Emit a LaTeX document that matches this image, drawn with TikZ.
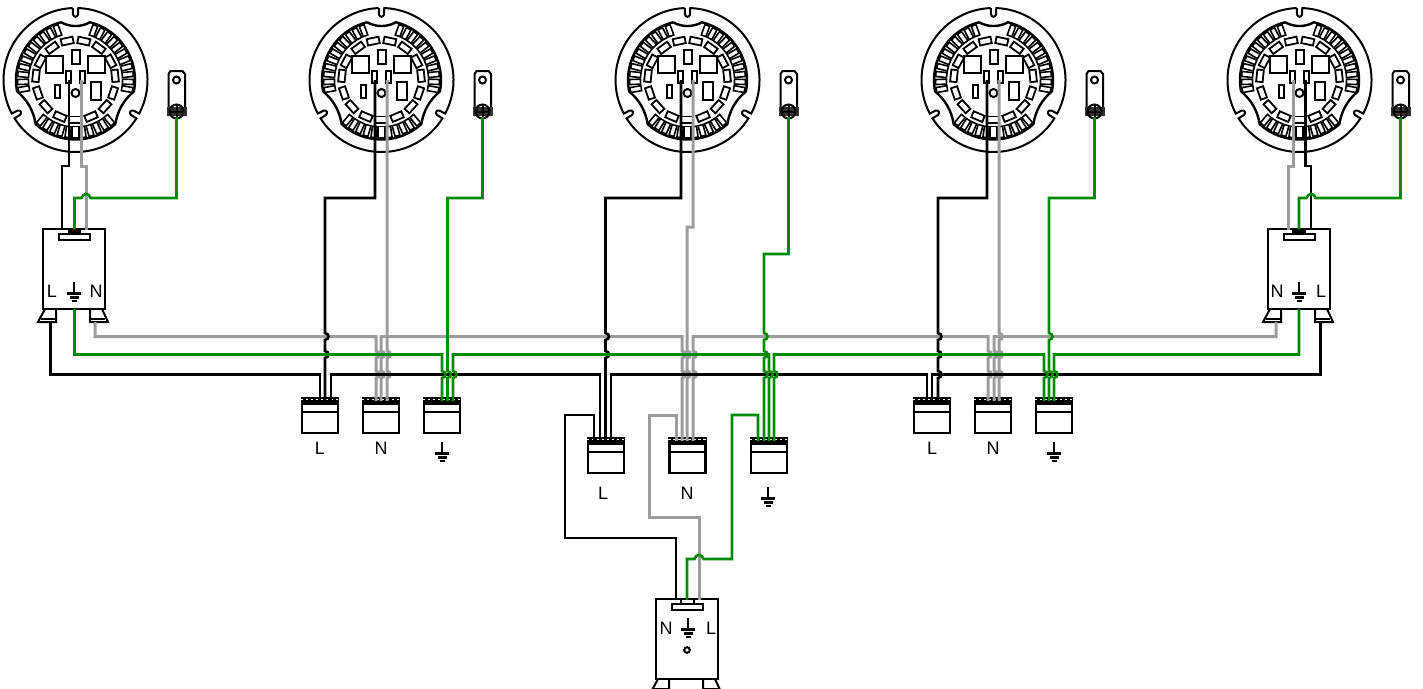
\documentclass[tikz,border=0pt]{standalone}
\usepackage{fontspec}
\setmainfont{Liberation Sans}
\definecolor{wgray}{HTML}{9C9C9C}
\definecolor{wgreen}{HTML}{008A00}
\tikzset{
  wire/.style={line width=2.6pt,line join=miter},
  wb/.style={wire,draw=black},
  wg/.style={wire,line width=3pt,draw=wgray},
  wn/.style={wire,draw=wgreen},
  lampline/.style={draw=black,line width=2pt},
  toothline/.style={draw=black,line width=1.6pt},
  connbox/.style={draw=black,line width=2.6pt,rectangle,inner sep=0pt,minimum width=36pt,minimum height=35pt},
  drvbox/.style={draw=black,line width=2pt,rectangle,inner sep=0pt,minimum width=62pt,minimum height=80pt},
  lbl/.style={inner sep=0pt,font=\fontsize{18}{19}\selectfont,text=black},
}
% vertical hops (bump to the right), horizontal hop (bump upward, travelling leftward)
\def\vh#1#2{-- (#1,{#2-3.4}) .. controls ({#1+4.6},{#2-3.4}) and ({#1+4.6},{#2+3.4}) .. (#1,{#2+3.4})}
\def\vu#1#2{-- (#1,{#2+3.4}) .. controls ({#1+4.6},{#2+3.4}) and ({#1+4.6},{#2-3.4}) .. (#1,{#2-3.4})}
\def\hh#1#2{-- ({#1+4.5},#2) .. controls ({#1+3},{#2-5.5}) and ({#1-3},{#2-5.5}) .. ({#1-4.5},#2)}
\def\notch#1{-- ({#1-2.2}:65.5) .. controls ({#1-1.5}:62.5) and ({#1+1.5}:62.5) .. ({#1+2.2}:65.5) -- ({#1+2.2}:72)}
\def\lamp#1#2{%
  \coordinate (#2) at (#1,80);
  \begin{scope}[shift={(#1,80)},y=1pt]
    \draw[lampline] (92.2:72) arc[start angle=92.2,end angle=207.8,radius=72] \notch{210}
       arc[start angle=212.2,end angle=327.8,radius=72] \notch{330}
       arc[start angle=332.2,end angle=447.8,radius=72] \notch{90};
    \draw[lampline,line width=2.4pt] (104:59.5) arc[start angle=104,end angle=191,radius=59.5]
       .. controls (203:52) and (216:52) .. (228:59.5)
       arc[start angle=228,end angle=312,radius=59.5]
       .. controls (324:52) and (337:52) .. (349:59.5)
       arc[start angle=349,end angle=436,radius=59.5]
       .. controls (84:53) and (96:53) .. (104:59.5);
    \foreach \a in {110,118,...,190,230,238,...,310,-10,-2,...,70}
      \draw[toothline,rotate=\a] (47,-2.5) rectangle (58,2.5);
    \foreach \a in {270}
      \draw[toothline,fill=white,rotate=\a] (46.5,-3.6) rectangle (58,3.6);
    \foreach \a in {6,28,54,78,102,126,152,174,199,222,247,270,293,318,341}
      \draw[toothline,line width=1.8pt,rotate=\a] (36.5,-6) rectangle (43,6);
    \draw[lampline] (-29.5,7.5) rectangle (-12.5,24);
    \draw[lampline] (12,7.5) rectangle (29,24);
    \draw[lampline] (-4,16) rectangle (4,30);
    \draw[lampline,line width=1.4pt] (-9.5,-3) rectangle (-4.5,9);
    \draw[lampline,line width=1.4pt] (4.5,-3) rectangle (9.5,9);
    \draw[lampline] (-21,-18) rectangle (-16,-5);
    \draw[lampline] (15,-20) rectangle (25,-2);
    \draw[lampline] (0,-13) circle[radius=4];
    % bracket
    \draw[lampline] (93,-36) -- (93,6) -- (95,9) -- (107,9) -- (109.5,6) -- (109.5,-36);
    \draw[lampline] (101,0) circle[radius=3.5];
    \fill[black!80] (91,-36) rectangle (111.5,-27);
    \draw[lampline] (101,-31.5) circle[radius=7];
    \draw[lampline] (94,-31.5) -- (108,-31.5) (101,-24.5) -- (101,-38.5);
  \end{scope}}
\def\conn#1#2#3{%
  \node[connbox] (#1) at (#2,{#3+17.5}) {};
  \fill[black] (#1.north west) rectangle ([yshift=-8pt]#1.north east);
  \draw[white,line width=.8pt,dash pattern=on 2.5pt off 2.5pt] ([yshift=-3pt]#1.north west) -- ([yshift=-3pt]#1.north east);
  \draw[black,line width=2.2pt] ([yshift=-15pt]#1.north west) -- ([yshift=-15pt]#1.north east);}
\def\gnd#1#2{%
  \draw[black,line width=2.2pt] (#1,#2) -- (#1,{#2+11.5});
  \draw[black,line width=2.2pt] ({#1-7},{#2+11.5}) -- ({#1+7},{#2+11.5});
  \draw[black,line width=2.2pt] ({#1-4.5},{#2+15.5}) -- ({#1+4.5},{#2+15.5});
  \draw[black,line width=2.2pt] ({#1-2.5},{#2+19}) -- ({#1+2.5},{#2+19});}
\def\feet#1#2{%
  \draw[black,line width=2pt] ({#1-29},#2) -- ({#1-36},{#2+13}) -- ({#1-18},{#2+13}) -- ({#1-18},#2);
  \draw[black,line width=2pt] ({#1-33},{#2+10}) -- ({#1-18},{#2+10});
  \draw[black,line width=2pt] ({#1+16},#2) -- ({#1+16},{#2+13}) -- ({#1+34},{#2+13}) -- ({#1+28},#2);
  \draw[black,line width=2pt] ({#1+16},{#2+10}) -- ({#1+31},{#2+10});}
\def\strip#1#2#3{%
  \draw[black,line width=2pt] ({#1-15.5},{#2+5}) rectangle ({#1+15.5},{#2+10.5});}
\begin{document}
\begin{tikzpicture}[x=1pt,y=-1pt]
\useasboundingbox (0,0) rectangle (1423,688);
\lamp{75.5}{lampA}
\lamp{381.5}{lampB}
\lamp{687.5}{lampC}
\lamp{993.5}{lampD}
\lamp{1299.5}{lampE}
% drivers
\node[drvbox] (drvA) at (74,269) {};
\node[drvbox] (drvE) at (1299,269) {};
\node[drvbox] (drvC) at (687,639) {};
\strip{74}{229}{}
\strip{1299}{229}{}
\strip{687}{599}{}
\fill[black] (68,229) rectangle (81,234);
\fill[black] (1292,229) rectangle (1306,234);
\draw[black,line width=1.6pt] (681,599) rectangle (694,604);
\feet{74}{309}
\feet{1299}{309}
\feet{687}{679}
\gnd{74}{282}
\gnd{1299}{282}
\gnd{688}{618}
\draw[lampline] (687,650) circle[radius=2.8];
\node[lbl] (tAL) at (52,291) {L};
\node[lbl] (tAN) at (96,291) {N};
\node[lbl] (tEN) at (1277,291) {N};
\node[lbl] (tEL) at (1321,291) {L};
\node[lbl] (tCN) at (666,628) {N};
\node[lbl] (tCL) at (711,628) {L};
% connectors
\conn{cL2}{320}{398}
\conn{cN2}{381}{398}
\conn{cG2}{442}{398}
\conn{cL3}{606}{438}
\conn{cN3}{687.5}{438}
\conn{cG3}{769}{438}
\conn{cL4}{932}{398}
\conn{cN4}{993}{398}
\conn{cG4}{1054}{398}
\node[lbl] (tL2) at (320,448) {L};
\node[lbl] (tN2) at (381,448) {N};
\gnd{442}{442}
\node[lbl] (tL3) at (603,493) {L};
\node[lbl] (tN3) at (687,493) {N};
\gnd{768}{487}
\node[lbl] (tL4) at (932,448) {L};
\node[lbl] (tN4) at (993,448) {N};
\gnd{1054}{442}
% terminals
\coordinate (pAL) at (69,80);   \coordinate (pAR) at (81,80);
\coordinate (pBL) at (375,80);  \coordinate (pBR) at (387,80);
\coordinate (pCL) at (681,80);  \coordinate (pCR) at (693,80);
\coordinate (pDL) at (987,80);  \coordinate (pDR) at (999,80);
\coordinate (pEL) at (1293,80); \coordinate (pER) at (1305.5,80);
\coordinate (bA) at (176.5,117); \coordinate (bB) at (482.5,117);
\coordinate (bC) at (788.5,117); \coordinate (bD) at (1094.5,117);
\coordinate (bE) at (1400.5,117);
\coordinate (tA1) at (62,229.5); \coordinate (tA2) at (74.5,229.5); \coordinate (tA3) at (86,229.5);
\coordinate (tE1) at (1288,229.5); \coordinate (tE2) at (1299,229.5); \coordinate (tE3) at (1311,229.5);
\coordinate (tC1) at (676,599.5); \coordinate (tC2) at (687,599.5); \coordinate (tC3) at (699,599.5);
\coordinate (fAL) at (50.5,322); \coordinate (fAN) at (95,322); \coordinate (fAG) at (74.5,309);
\coordinate (fEN) at (1276,322); \coordinate (fEL) at (1320.5,322); \coordinate (fEG) at (1299,309);
% --- gray wires
\draw[wg] (pAR) -- (81,166) -- (86,166) -- (tA3);
\draw[wg] (fAN) -- (95,336.5) -- (376,336.5) \vh{376}{354.5} \vh{376}{374.5} -- (376,401);
\draw[wg] (pBR) \vh{387}{354.5} \vh{387}{374.5} -- (387,401);
\draw[wg] (381,401) \vu{381}{374.5} \vu{381}{354.5} -- (381,336.5) -- (682,336.5) \vh{682}{354.5} \vh{682}{374.5} -- (682,441);
\draw[wg] (pCR) -- (693,227) -- (687,227) \vh{687}{354.5} \vh{687}{374.5} -- (687,441);
\draw[wg] (693,441) \vu{693}{374.5} \vu{693}{354.5} -- (693,336.5) -- (988,336.5) \vh{988}{354.5} \vh{988}{374.5} -- (988,401);
\draw[wg] (pDR) \vh{999}{336.5} \vh{999}{354.5} \vh{999}{374.5} -- (999,401);
\draw[wg] (994,401) \vu{994}{374.5} \vu{994}{354.5} -- (994,336.5) -- (1276,336.5) -- (fEN);
\draw[wg] (pEL) -- (1293,166) -- (1288,166) -- (tE1);
\draw[wg] (676,441) -- (676,415) -- (649,415) -- (649,517) -- (699,517) -- (tC3);
% --- black wires
\draw[wb] (pAL) -- (69,166) -- (62,166) -- (tA1);
\draw[wb] (fAL) -- (50.5,374.5) -- (320,374.5) -- (320,401);
\draw[wb] (pBL) -- (375,198) -- (325,198) \vh{325}{336.5} \vh{325}{354.5} -- (325,401);
\draw[wb] (331,401) -- (331,374.5) -- (600,374.5) -- (600,441);
\draw[wb] (pCL) -- (681,198) -- (605.5,198) \vh{605.5}{336.5} \vh{605.5}{354.5} -- (605.5,441);
\draw[wb] (611,441) -- (611,374.5) -- (927,374.5) -- (927,401);
\draw[wb] (pDL) -- (987,198) -- (938,198) \vh{938}{336.5} \vh{938}{354.5} \vh{938}{374.5} -- (938,401);
\draw[wb] (932,401) -- (932,374.5) -- (1320.5,374.5) -- (fEL);
\draw[wb] (pER) -- (1305.5,166) -- (1311,166) -- (tE3);
\draw[wb] (594,441) -- (594,415) -- (565,415) -- (565,538) -- (676,538) -- (tC1);
% --- green wires
\draw[wn] (bA) -- (176.5,198) \hh{86}{198} -- (74.5,198) -- (tA2);
\draw[wn] (fAG) -- (74.5,354.5) -- (442,354.5) \vh{442}{374.5} -- (442,401);
\draw[wn] (bB) -- (482.5,198) -- (447.5,198) \vh{447.5}{374.5} -- (447.5,401);
\draw[wn] (453,401) \vu{453}{374.5} -- (453,354.5) -- (769,354.5) \vh{769}{374.5} -- (769,441);
\draw[wn] (bC) -- (788.5,254) -- (764,254) \vh{764}{336.5} \vh{764}{354.5} \vh{764}{374.5} -- (764,441);
\draw[wn] (774,441) \vu{774}{374.5} -- (774,354.5) -- (1044,354.5) \vh{1044}{374.5} -- (1044,401);
\draw[wn] (bD) -- (1094.5,198) -- (1049,198) \vh{1049}{336.5} \vh{1049}{374.5} -- (1049,401);
\draw[wn] (1054,401) \vu{1054}{374.5} -- (1054,354.5) -- (1299,354.5) -- (fEG);
\draw[wn] (bE) -- (1400.5,198) \hh{1311}{198} -- (1299,198) -- (tE2);
\draw[wn] (758,441) -- (758,415) -- (732,415) -- (732,559) \hh{699}{559} -- (687,559) -- (tC2);
\end{tikzpicture}
\end{document}
